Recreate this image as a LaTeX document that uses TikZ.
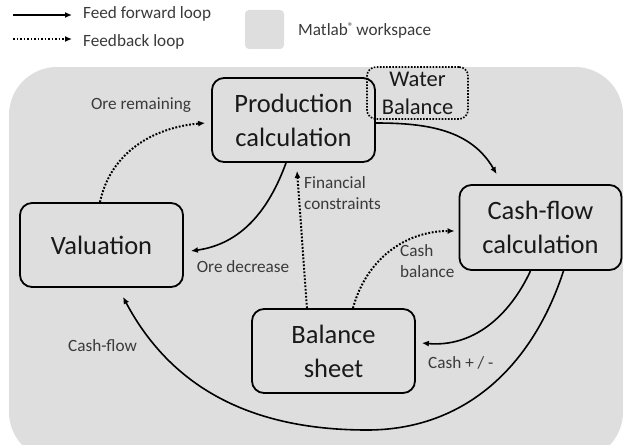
\documentclass[tikz,border=0pt]{standalone}
\usepackage{fontspec}
\setmainfont{Carlito}
\usetikzlibrary{arrows.meta}
\definecolor{bggray}{HTML}{DEDEDE}
\definecolor{labelgray}{HTML}{3A3A3A}
\tikzset{
  box/.style={draw=black, line width=1.8pt, rounded corners=12pt, inner sep=0pt, align=center,
    minimum width=163pt, minimum height=84pt, font=\fontsize{26.5}{34}\selectfont, text=black!90},
  wbox/.style={draw=black, line width=1.6pt, dash pattern=on 1.6pt off 1.5pt, rounded corners=9pt,
    inner sep=0pt, align=center, minimum width=101pt, minimum height=52pt,
    font=\fontsize{22.5}{28}\selectfont, text=black!90},
  lbl/.style={font=\fontsize{17.2}{21}\selectfont, text=labelgray, inner sep=0pt, align=left},
  ff/.style={line width=1.6pt, -{Latex[length=7pt,width=6pt]}},
  fb/.style={line width=2pt, dash pattern=on 1.8pt off 1.7pt, -{Latex[length=7pt,width=6pt]}},
}
\begin{document}
\begin{tikzpicture}[x=1pt,y=-1pt]
\useasboundingbox (0,0) rectangle (623,444);
% workspace background
\fill[bggray, rounded corners=48pt] (9,67) rectangle (623,460);
% legend
\coordinate (l1a) at (13,15); \coordinate (l1b) at (72,15);
\coordinate (l2a) at (13,39); \coordinate (l2b) at (72,39);
\draw[ff] (l1a) -- (l1b);
\draw[fb, line width=1.5pt] (l2a) -- (l2b);
\node[lbl, anchor=west] (legff) at (83,14) {Feed forward loop};
\node[lbl, anchor=west] (legfb) at (83,42) {Feedback loop};
\fill[bggray, rounded corners=4pt] (245,10) rectangle (284,49);
\node[lbl, anchor=west] (legws) at (298,31) {Matlab\raisebox{5pt}{\fontsize{11}{11}\selectfont ®}\,workspace};
% boxes
\node[wbox] (water) at (417.5,93) {Water\\Balance};
\node[box] (prod) at (293.5,120) {Production\\calculation};
\node[box] (val) at (101.5,245) {Valuation};
\node[box, minimum width=162pt, minimum height=85pt] (cash) at (540.5,227.5) {Cash-flow\\calculation};
\node[box] (bal) at (333.5,351) {Balance\\sheet};
% connectors
\draw[ff] ([yshift=-3pt]prod.east) to[out=0,in=120] ([xshift=38pt,yshift=10pt]cash.north west);
\draw[ff] ([xshift=-7.5pt]prod.south) to[out=-110,in=8] ([xshift=7pt,yshift=-6pt]val.east);
\draw[fb] ([xshift=-1.5pt]val.north) to[out=78,in=185] ([xshift=-6pt,yshift=-3pt]prod.west);
\draw[fb] ([xshift=-26.5pt]bal.north) -- ([xshift=3.5pt,yshift=-8pt]prod.south);
\draw[fb] ([xshift=19.5pt]bal.north) to[out=75,in=180] ([xshift=-4pt,yshift=-3.5pt]cash.west);
\draw[ff] ([xshift=-10pt]cash.south) to[out=-115,in=-5] ([xshift=6pt,yshift=8pt]bal.east);
\coordinate (low) at (367,430);
\draw[ff] ([xshift=23pt]cash.south) to[out=-108,in=0] (low) to[out=180,in=-62] ([xshift=21.5pt,yshift=-9pt]val.south);
% labels
\node[lbl] (lore) at (141,105) {Ore remaining};
\node[lbl] (ldec) at (243,267) {Ore decrease};
\node[lbl, anchor=west] (lfin) at (304,193.5) {Financial\\constraints};
\node[lbl, anchor=west] (lcb) at (400,261.5) {Cash\\balance};
\node[lbl, anchor=west] (lcpm) at (428,363) {Cash + / -};
\node[lbl] (lcf) at (102.5,346) {Cash-flow};
\end{tikzpicture}
\end{document}
